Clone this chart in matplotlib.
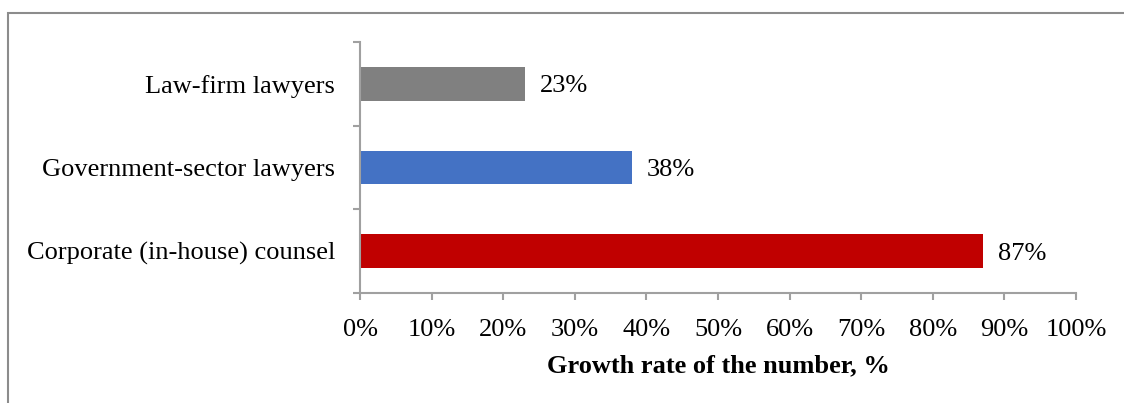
import matplotlib.pyplot as plt
from matplotlib.patches import Rectangle

plt.rcParams['font.family'] = ['Liberation Serif', 'DejaVu Serif']

categories = ['Corporate (in-house) counsel', 'Government-sector lawyers', 'Law-firm lawyers']
growth = [87, 38, 23]
colors = ['#C00000', '#4472C4', '#808080']
xticks = [0, 10, 20, 30, 40, 50, 60, 70, 80, 90, 100]

FS = 19

fig = plt.figure(figsize=(11.24, 4.03), dpi=100)
ax = fig.add_axes([360 / 1124, 1 - 293 / 403, 716 / 1124, 251 / 403])

ypos = range(len(categories))
bars = ax.barh(ypos, growth, height=0.4, color=colors)

# value labels
for y, v in zip(ypos, growth):
    ax.text(v + 2.1, y, f'{v}%', va='center_baseline', ha='left', fontsize=FS)

ax.set_xlim(0, 100)
ax.set_ylim(-0.5, len(categories) - 0.5)
ax.set_xticks(xticks)
ax.set_xticklabels([f'{t}%' for t in xticks], fontsize=FS)

# category labels centred, tick marks on the boundaries
ax.set_yticks([y - 0.5 for y in range(len(categories) + 1)])
ax.set_yticklabels([])
ax.set_yticks(list(ypos), minor=True)
ax.set_yticklabels(categories, minor=True, fontsize=FS)
ax.tick_params(axis='y', which='minor', length=0, pad=18)
ax.tick_params(axis='y', which='major', length=5, width=1.5, color='#A0A0A0', direction='out')
ax.tick_params(axis='x', length=5, width=1.5, color='#A0A0A0', direction='out', pad=13.5)

for side in ['top', 'right']:
    ax.spines[side].set_visible(False)
for side in ['left', 'bottom']:
    ax.spines[side].set_color('#A0A0A0')
    ax.spines[side].set_linewidth(1.5)

ax.set_xlabel('Growth rate of the number, %', fontsize=FS, fontweight='bold', labelpad=9.5)

# outer chart frame
fig.patches.append(Rectangle((8 / 1124, -0.1), 1.2, (1 - 13 / 403) + 0.1,
                             transform=fig.transFigure, fill=False,
                             edgecolor='#8C8C8C', linewidth=1.5))

fig.savefig('out.png', dpi=100)
